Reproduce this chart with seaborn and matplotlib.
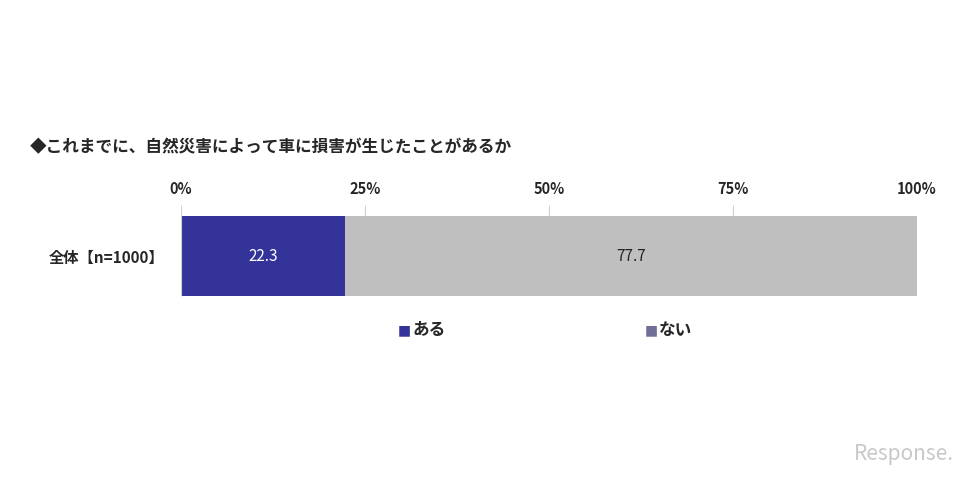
import matplotlib
matplotlib.use("Agg")
import matplotlib.pyplot as plt
import seaborn as sns
import pandas as pd

# data
categories = ["全体【n=1000】"]
answers = ["ある", "ない"]
values = [22.3, 77.7]
colors = ["#333399", "#bfbfbf"]
legend_colors = ["#333399", "#6e6e96"]
tick_vals = [0, 25, 50, 75, 100]
title = "◆これまでに、自然災害によって車に損害が生じたことがあるか"

sns.set_theme(style="white")
plt.rcParams["font.family"] = ["Noto Sans CJK JP", "DejaVu Sans"]

fig = plt.figure(figsize=(9.68, 4.84), dpi=100)
ax = fig.add_axes([0.187, 0.380, 0.760, 0.196])

# stacked: draw cumulative totals from the back
cum = pd.Series(values).cumsum()
for i in reversed(range(len(values))):
    df = pd.DataFrame({"cat": categories, "val": [cum[i]]})
    sns.barplot(data=df, x="val", y="cat", color=colors[i], width=1.0,
                saturation=1, ax=ax, zorder=2, linewidth=0)

left = 0
for v, c in zip(values, colors):
    ax.text(left + v / 2, 0, f"{v:.1f}", ha="center", va="center",
            color="white" if c == "#333399" else "#222222", fontsize=11)
    left += v

ax.set_xlim(0, 100)
ax.set_ylim(0.55, -0.6375)
ax.set_xticks(tick_vals)
ax.set_xticklabels([f"{t}%" for t in tick_vals], fontsize=10.5, fontweight="bold")
ax.xaxis.tick_top()
ax.tick_params(axis="x", length=0, pad=6)
ax.set_xlabel("")
ax.set_ylabel("")
ax.tick_params(axis="y", length=0, pad=12)
for lab in ax.get_yticklabels():
    lab.set_fontsize(11)
    lab.set_fontweight("bold")
# short grid stubs above the bar only
ax.vlines(tick_vals[1:-1], -0.6375, -0.5, color="#d0d0d0", lw=0.8, zorder=1)
ax.vlines([0], -0.6375, 0.5, color="#d0d0d0", lw=0.8, zorder=3)
for s in ax.spines.values():
    s.set_visible(False)

fig.text(0.031, 0.696, title, fontsize=12, fontweight="bold", va="center")

# legend
for x, lab, c in zip([0.411, 0.666], answers, legend_colors):
    fig.text(x, 0.318, "■", color=c, fontsize=10, va="center", family=["DejaVu Sans"])
    fig.text(x + 0.015, 0.318, lab, fontsize=12, fontweight="bold", va="center")

fig.text(0.985, 0.04, "Response.", color="#c8c8c8", fontsize=15,
         style="italic", ha="right", va="bottom")

fig.savefig("out.png", dpi=100)
